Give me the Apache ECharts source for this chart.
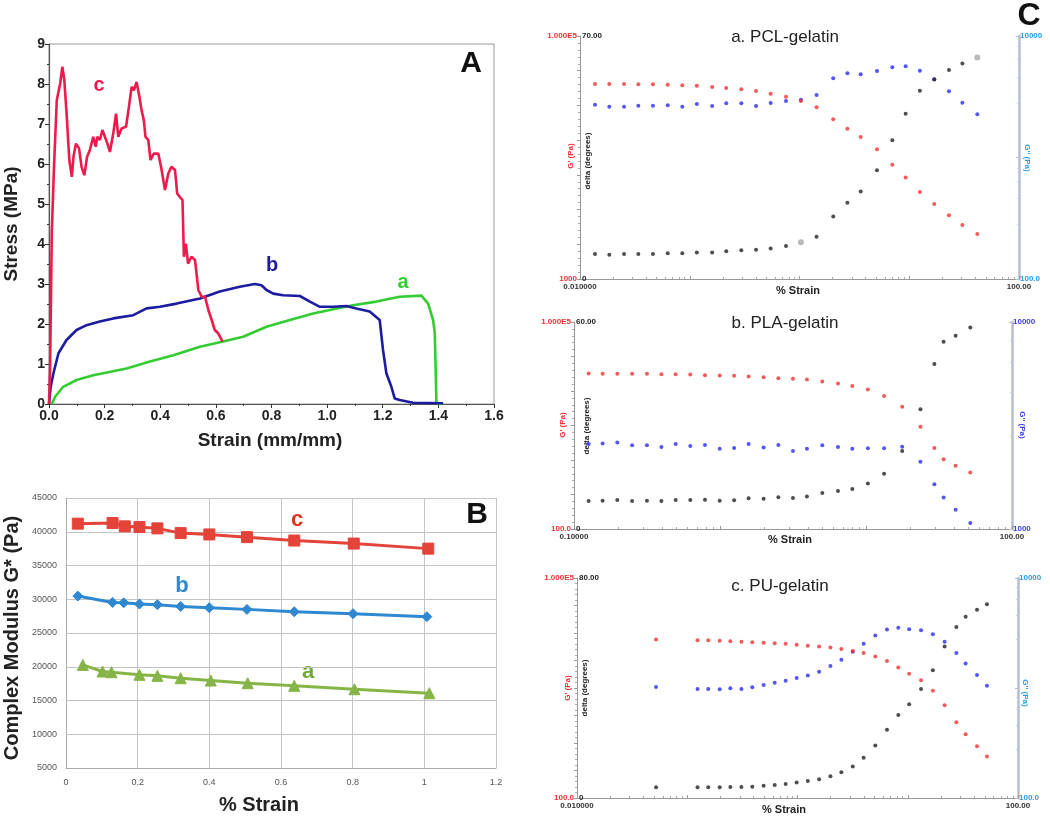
<!DOCTYPE html>
<html><head><meta charset="utf-8">
<script src="https://cdn.jsdelivr.net/npm/echarts@6/dist/echarts.min.js"></script>
<style>html,body{margin:0;padding:0;background:#fff}#c{width:1050px;height:816px}</style>
</head><body><div id="c"></div>
<script>
// ---------- Panel A: stress-strain ----------
const stressC = [[0,0],[0.004,0.93],[0.01,4.26],[0.018,5.93],[0.028,7.6],[0.04,8.0],[0.048,8.43],[0.055,8.1],[0.064,7.18],[0.073,6.1],[0.082,5.68],[0.088,6.18],[0.097,6.51],[0.108,6.39],[0.117,5.93],[0.127,5.72],[0.137,6.18],[0.147,6.35],[0.159,6.68],[0.168,6.43],[0.174,6.68],[0.183,6.6],[0.192,6.85],[0.201,6.68],[0.21,6.51],[0.219,6.3],[0.231,6.76],[0.241,7.26],[0.249,6.68],[0.261,6.89],[0.277,6.93],[0.289,7.51],[0.297,7.93],[0.305,7.84],[0.315,8.05],[0.325,7.68],[0.333,7.34],[0.341,7.09],[0.347,6.68],[0.357,6.6],[0.365,6.1],[0.377,6.26],[0.393,6.26],[0.405,5.85],[0.417,5.35],[0.429,5.76],[0.44,5.93],[0.453,5.85],[0.461,5.26],[0.47,5.18],[0.48,5.1],[0.485,3.68],[0.492,4.01],[0.5,3.51],[0.512,3.68],[0.525,3.6],[0.537,2.85],[0.549,2.68],[0.561,2.68],[0.573,2.35],[0.585,2.1],[0.596,1.85],[0.608,1.77],[0.624,1.56]];
const stressB = [[0,0],[0.006,0.43],[0.016,0.77],[0.034,1.27],[0.063,1.6],[0.099,1.85],[0.135,1.97],[0.183,2.06],[0.231,2.14],[0.303,2.22],[0.351,2.39],[0.399,2.43],[0.459,2.51],[0.543,2.64],[0.614,2.81],[0.686,2.93],[0.74,3.0],[0.764,2.97],[0.782,2.85],[0.806,2.76],[0.842,2.72],[0.902,2.7],[0.938,2.56],[0.974,2.43],[1.022,2.43],[1.07,2.45],[1.105,2.39],[1.153,2.31],[1.189,2.1],[1.201,1.35],[1.213,0.77],[1.231,0.43],[1.243,0.14],[1.261,0.1],[1.309,0.03],[1.417,0.02]];
const stressA = [[0.01,0],[0.022,0.18],[0.051,0.43],[0.099,0.6],[0.159,0.72],[0.279,0.89],[0.363,1.06],[0.447,1.22],[0.543,1.43],[0.626,1.56],[0.698,1.68],[0.782,1.93],[0.866,2.1],[0.95,2.26],[1.022,2.37],[1.093,2.47],[1.177,2.56],[1.261,2.68],[1.339,2.71],[1.363,2.51],[1.381,2.1],[1.387,1.77],[1.39,0.93],[1.393,0.02],[1.417,0]];

// ---------- Panel B: complex modulus ----------
const modC = [[0.033,41200],[0.13,41300],[0.164,40800],[0.205,40700],[0.255,40500],[0.32,39800],[0.40,39600],[0.505,39200],[0.637,38700],[0.803,38250],[1.011,37500]];
const modB = [[0.033,30470],[0.13,29530],[0.161,29480],[0.205,29290],[0.255,29190],[0.32,28940],[0.40,28740],[0.505,28500],[0.637,28150],[0.801,27860],[1.007,27410]];
const modA = [[0.047,20270],[0.102,19290],[0.127,19190],[0.205,18800],[0.255,18650],[0.32,18300],[0.404,17960],[0.507,17560],[0.637,17170],[0.805,16670],[1.014,16080]];

// ---------- Panel C: rheology ----------
const pclStrain = [0.0137,0.0185,0.0252,0.034,0.0462,0.063,0.0855,0.116,0.160,0.215,0.295,0.402,0.546,0.753,1.03,1.43,2.03,2.73,3.61,5.08,7.01,9.27,12.5,16.9,23.0,30.5,41.7];
const pclGp = [40270,40270,40270,40000,40000,39770,39270,39020,38040,37330,36400,35250,33520,31670,29170,25880,20610,17270,14750,11670,8730,6830,5200,4143,3344,2782,2346];
const pclGpp = [2721,2620,2620,2670,2670,2687,2620,2755,2654,2790,2790,2654,2808,2917,2992,3268,4483,4929,4837,5152,5521,5627,5186,4400,3504,2826,2266];
const pclDelta = [7.2,7.0,7.2,7.2,7.2,7.4,7.4,7.6,7.6,8.0,8.3,8.4,8.8,9.5,10.6,12.2,18.0,22.0,25.2,31.3,40.0,47.6,54.2,57.5,60.2,62.1,63.8];
const pclDeltaGrey = [14, 26];

const plaStrain = [0.126,0.157,0.198,0.250,0.316,0.397,0.497,0.626,0.789,0.995,1.25,1.57,1.99,2.51,3.16,3.94,5.02,6.43,8.06,10.3,13.3,17.7,23.6,29.4,34.0,41.1,51.8];
const plaGp = [17930,17740,17740,17740,17740,17540,17540,17350,16960,16770,16590,16230,15870,15350,15010,14690,13740,12860,11770,10530,8436,5913,3041,1496,1026,822,659];
const plaGpp = [2576,2585,2614,2538,2538,2491,2576,2519,2547,2445,2464,2576,2473,2547,2384,2445,2538,2491,2445,2455,2455,2500,2110,1647,1421,1239,1069];
const plaDelta = [8.1,8.2,8.4,8.1,8.2,8.1,8.4,8.4,8.5,8.2,8.3,8.9,8.8,9.2,9.0,9.4,10.4,11.0,11.6,13.2,16.0,22.6,34.7,47.8,54.3,56.0,58.4];

const puStrain = [0.0521,0.124,0.155,0.197,0.246,0.310,0.389,0.493,0.621,0.781,0.983,1.24,1.57,1.99,2.50,3.17,3.98,5.08,6.48,8.21,10.3,13.2,16.9,21.6,27.6,33.5,42.5,52.3];
const puGp = [14510,14210,14210,13920,13770,13490,13350,13070,12930,12670,12280,11900,11650,11290,10720,10070,9459,8518,7366,6039,4953,4021,2909,1839,1080,741,509,368];
const puGpp = [1021,979,979,972,993,979,1014,1065,1118,1166,1232,1302,1406,1583,1806,2135,2522,3001,3402,3522,3425,3354,3086,2630,2076,1674,1312,1050];
const puDelta = [3.9,3.9,3.9,3.9,4.0,4.0,4.1,4.5,4.7,5.1,5.6,6.2,6.8,7.9,9.4,11.5,14.6,19.1,24.8,30.2,34.1,39.6,46.5,55.1,62.2,65.9,68.5,70.5];

const FONT = '"Liberation Sans", Arial, Helvetica, sans-serif';
const RED = '#F03232', BLUE = '#2A2AEE', BLK = '#222222', LBLUE = '#2B9BE0', VBLUE = '#3C3CE6';

function near(v, t) { return Math.abs(Math.log10(v) - Math.log10(t)) < 1e-6; }
function endFmt(lo, hi, loTxt, hiTxt) {
  return function (v) { if (near(v, lo)) return loTxt; if (near(v, hi)) return hiTxt; return ''; };
}
function zip(xs, ys) { return xs.map((x, i) => [x, ys[i]]); }

const grids = [
  { left: 49, top: 44, width: 445, height: 360, show: true, borderColor: '#9a9a9a', borderWidth: 1 },
  { left: 66, top: 498, width: 430, height: 270 },
  { left: 580, top: 36, width: 439, height: 243 },
  { left: 574, top: 322, width: 438, height: 207 },
  { left: 577, top: 578, width: 441, height: 220 }
];

const boldLbl = { fontFamily: FONT, fontWeight: 'bold', fontSize: 14, color: '#222' };
const xAxes = [
  { gridIndex: 0, type: 'value', min: 0, max: 1.6, interval: 0.2,
    axisLine: { lineStyle: { color: '#555', width: 1.2 } }, axisTick: { length: 4, lineStyle: { color: '#333' } },
    minorTick: { show: true, splitNumber: 2, length: 2, lineStyle: { color: '#333' } },
    splitLine: { show: false }, axisLabel: Object.assign({ margin: 5, formatter: v => v.toFixed(1) }, boldLbl) },
  { gridIndex: 1, type: 'value', min: 0, max: 1.2, interval: 0.2,
    axisLine: { lineStyle: { color: '#aaa' } }, axisTick: { show: false },
    splitLine: { show: true, lineStyle: { color: '#c4c4c4', width: 1 } },
    axisLabel: { fontFamily: FONT, fontSize: 9, color: '#555', margin: 10, formatter: v => String(+v.toFixed(1)) } }
];
const cX = [[0.01, 100, '0.010000', '100.00'], [0.1, 100, '0.10000', '100.00'], [0.01, 100, '0.010000', '100.00']];
cX.forEach((c, i) => {
  xAxes.push({ gridIndex: 2 + i, type: 'log', logBase: 10, min: c[0], max: c[1],
    axisLine: { lineStyle: { color: '#999', width: 1 } },
    axisTick: { show: true, length: 3, inside: true, lineStyle: { color: '#999' } },
    minorTick: { show: true, splitNumber: 9, length: 2, lineStyle: { color: '#aaa' } },
    splitLine: { show: false },
    axisLabel: { fontFamily: FONT, fontSize: 8, fontWeight: 'bold', color: '#333', margin: 4,
      formatter: endFmt(c[0], c[1], c[2], c[3]) } });
});

const yAxes = [
  { gridIndex: 0, type: 'value', min: 0, max: 9, interval: 1,
    axisLine: { show: true, lineStyle: { color: '#555', width: 1.2 } }, axisTick: { show: true, length: 4, lineStyle: { color: '#333' } },
    minorTick: { show: true, splitNumber: 2, length: 2, lineStyle: { color: '#333' } },
    splitLine: { show: false }, axisLabel: Object.assign({ margin: 4 }, boldLbl) },
  { gridIndex: 1, type: 'value', min: 5000, max: 45000, interval: 5000,
    axisLine: { show: true, lineStyle: { color: '#aaa' } }, axisTick: { show: false },
    splitLine: { show: true, lineStyle: { color: '#c4c4c4', width: 1 } },
    axisLabel: { fontFamily: FONT, fontSize: 9, color: '#555', margin: 9, formatter: v => String(v) } }
];
// [redMin, redMax, redMinTxt, deltaMax, blueMin, blueMax, blueMinTxt, blueColor]
const cY = [
  [1000, 100000, '1000', 70, 100, 10000, '100.0', LBLUE],
  [100, 100000, '100.0', 60, 1000, 10000, '1000', VBLUE],
  [100, 100000, '100.0', 80, 100, 10000, '100.0', LBLUE]
];
cY.forEach((c, i) => {
  const g = 2 + i;
  yAxes.push({ gridIndex: g, type: 'log', logBase: 10, position: 'left', min: c[0], max: c[1],
    axisLine: { show: true, lineStyle: { color: '#999' } }, axisTick: { show: false }, splitLine: { show: false },
    axisLabel: { fontFamily: FONT, fontSize: 8, fontWeight: 'bold', color: RED, margin: 3,
      formatter: endFmt(c[0], c[1], c[2], '1.000E5') } });
  yAxes.push({ gridIndex: g, type: 'value', position: 'left', min: 0, max: c[3], interval: 10,
    axisLine: { show: false }, axisTick: { show: true, length: 3, lineStyle: { color: '#999' } },
    minorTick: { show: true, splitNumber: 5, length: 2, lineStyle: { color: '#aaa' } },
    splitLine: { show: false },
    axisLabel: { inside: true, fontFamily: FONT, fontSize: 8, fontWeight: 'bold', color: '#222', margin: 2,
      formatter: v => v === 0 ? '0' : (Math.abs(v - c[3]) < 1e-9 ? c[3].toFixed(2) : '') } });
  yAxes.push({ gridIndex: g, type: 'log', logBase: 10, position: 'right', min: c[4], max: c[5],
    axisLine: { show: true, lineStyle: { color: '#B4BED0', width: 2.5 } },
    axisTick: { show: true, length: 3, inside: true, lineStyle: { color: '#B4BED0' } },
    minorTick: { show: true, splitNumber: 5, length: 2, lineStyle: { color: '#c8d0dc' } },
    splitLine: { show: false },
    axisLabel: { fontFamily: FONT, fontSize: 8, fontWeight: 'bold', color: c[7], margin: 1,
      formatter: endFmt(c[4], c[5], c[6], '10000') } });
});

function lineA(data, color) {
  return { type: 'line', xAxisIndex: 0, yAxisIndex: 0, data: data, showSymbol: false, symbol: 'none',
    lineStyle: { color: color, width: 2.6 }, z: 3, animation: false };
}
function lineB(data, color, sym, size) {
  return { type: 'line', xAxisIndex: 1, yAxisIndex: 1, data: data, symbol: sym, symbolSize: size,
    lineStyle: { color: color, width: 3 }, itemStyle: { color: color, borderColor: color }, animation: false };
}
function scat(xi, yi, data, color, size) {
  return { type: 'scatter', xAxisIndex: xi, yAxisIndex: yi, data: data, symbol: 'circle', symbolSize: size || 4,
    itemStyle: { color: color }, animation: false };
}

const series = [
  lineA(stressA, '#33CC33'), lineA(stressB, '#1C1CA0'), lineA(stressC, '#EC1B4B'),
  lineB(modC, '#E4433A', 'rect', 11), lineB(modB, '#2F88D0', 'diamond', 10), lineB(modA, '#86B547', 'triangle', 11),
  scat(2, 4, zip(pclStrain, pclGpp), BLUE), scat(2, 2, zip(pclStrain, pclGp), RED),
  scat(2, 3, zip(pclStrain, pclDelta).map((p, i) => pclDeltaGrey.indexOf(i) >= 0
    ? { value: p, symbolSize: 6, itemStyle: { color: '#A8A8A8' } } : p), BLK),
  scat(3, 7, zip(plaStrain, plaGpp), BLUE), scat(3, 5, zip(plaStrain, plaGp), RED), scat(3, 6, zip(plaStrain, plaDelta), BLK),
  scat(4, 10, zip(puStrain, puGpp), BLUE), scat(4, 8, zip(puStrain, puGp), RED), scat(4, 9, zip(puStrain, puDelta), BLK)
];

function txt(text, x, y, font, fill, rot) {
  return { type: 'text', x: x, y: y, rotation: rot || 0, silent: true,
    style: { text: text, font: font, fill: fill, textAlign: 'center', textVerticalAlign: 'middle', align: 'center', verticalAlign: 'middle' } };
}
const R90 = Math.PI / 2;
const graphics = [
  // Panel A
  txt('Stress (MPa)', 12, 224, 'bold 19px ' + FONT, '#222', R90),
  txt('Strain (mm/mm)', 270, 441, 'bold 19px ' + FONT, '#222'),
  txt('A', 471, 64, 'bold 30px ' + FONT, '#111'),
  txt('c', 99, 85, 'bold 20px ' + FONT, '#EC1B4B'),
  txt('b', 272, 265, 'bold 20px ' + FONT, '#1C1CA0'),
  txt('a', 403, 282, 'bold 20px ' + FONT, '#33CC33'),
  // Panel B
  txt('Complex Modulus G* (Pa)', 12, 638, 'bold 20px ' + FONT, '#222', R90),
  txt('% Strain', 259, 805, 'bold 20px ' + FONT, '#222'),
  txt('B', 477, 515, 'bold 30px ' + FONT, '#111'),
  txt('c', 297, 520, 'bold 22px ' + FONT, '#E4331F'),
  txt('b', 182, 586, 'bold 22px ' + FONT, '#2F88D0'),
  txt('a', 308, 672, 'bold 22px ' + FONT, '#72A83A'),
  // Panel C
  txt('C', 1029, 16, 'bold 32px ' + FONT, '#111'),
  txt('a. PCL-gelatin', 785, 37, '17px ' + FONT, '#222'),
  txt('b. PLA-gelatin', 785, 323, '17px ' + FONT, '#222'),
  txt('c. PU-gelatin', 780, 586, '17px ' + FONT, '#222'),
  txt('% Strain', 798, 291, 'bold 11px ' + FONT, '#222'),
  txt('% Strain', 790, 540, 'bold 11px ' + FONT, '#222'),
  txt('% Strain', 784, 810, 'bold 11px ' + FONT, '#222'),
  txt("G' (Pa)", 571, 156, 'bold 8px ' + FONT, RED, R90),
  txt('delta (degrees)', 588, 161, 'bold 8px ' + FONT, '#222', R90),
  txt("G'' (Pa)", 1027, 158, 'bold 8px ' + FONT, LBLUE, -R90),
  txt("G' (Pa)", 563, 425, 'bold 8px ' + FONT, RED, R90),
  txt('delta (degrees)', 587, 426, 'bold 8px ' + FONT, '#222', R90),
  txt("G'' (Pa)", 1022, 425, 'bold 8px ' + FONT, VBLUE, -R90),
  txt("G' (Pa)", 568, 688, 'bold 8px ' + FONT, RED, R90),
  txt('delta (degrees)', 585, 688, 'bold 8px ' + FONT, '#222', R90),
  txt("G'' (Pa)", 1025, 693, 'bold 8px ' + FONT, LBLUE, -R90)
];

const chart = echarts.init(document.getElementById('c'), null, { renderer: 'canvas' });
chart.setOption({
  backgroundColor: '#fff',
  animation: false,
  textStyle: { fontFamily: FONT },
  grid: grids, xAxis: xAxes, yAxis: yAxes, series: series, graphic: graphics
});
</script></body></html>
